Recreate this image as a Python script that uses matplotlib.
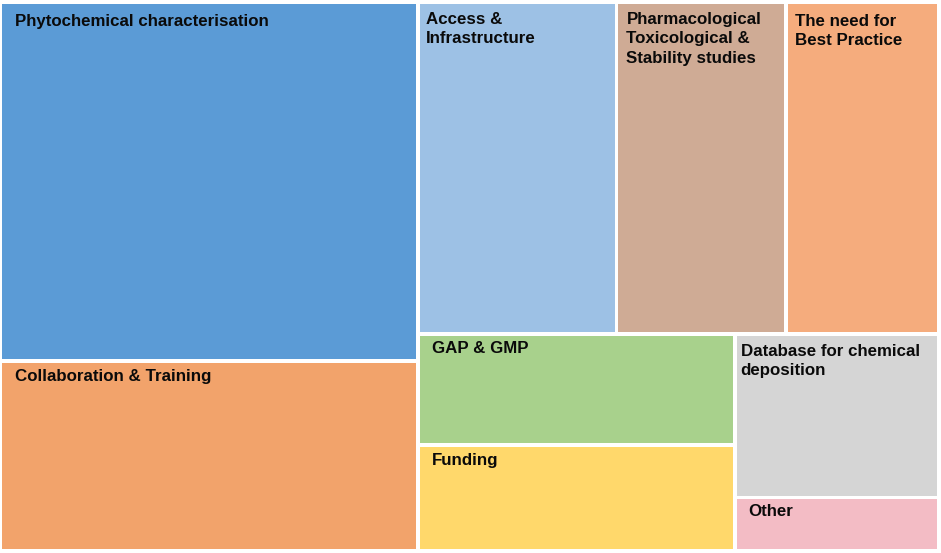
import matplotlib.pyplot as plt
from matplotlib.patches import Rectangle

# Treemap of reported needs (relative weights)
labels = [
    "Phytochemical characterisation",
    "Collaboration & Training",
    "Access &\nInfrastructure",
    "Pharmacological\nToxicological &\nStability studies",
    "The need for\nBest Practice",
    "GAP & GMP",
    "Funding",
    "Database for chemical\ndeposition",
    "Other",
]
values = [29.13, 15.38, 12.83, 10.92, 9.84, 6.84, 6.50, 6.45, 2.11]
colors = ["#5b9bd6", "#f2a36b", "#9dc1e5", "#cfab95", "#f5ac7d",
          "#a8d18c", "#ffd86b", "#d5d5d5", "#f3bcc5"]

# label padding inside each box (px), the labels are not all placed alike
pad_x = [13, 13, 6, 8, 7, 12, 12, 4, 12]
pad_y = [12, 8, 10, 10, 12, 7, 8, 10, 7]

# nesting of the layout: lists alternate between side-by-side and stacked
layout_tree = [[0, 1], [[2, 3, 4], [[5, 6], [7, 8]]]]


def total(node):
    if isinstance(node, int):
        return values[node]
    return sum(total(n) for n in node)


def place(node, x, y, w, h, horizontal, out):
    if isinstance(node, int):
        out[node] = (x, y, w, h)
        return
    s = total(node)
    pos = 0.0
    for child in node:
        frac = total(child) / s
        if horizontal:
            place(child, x + pos * w, y, w * frac, h, not horizontal, out)
        else:
            place(child, x, y + pos * h, w, h * frac, not horizontal, out)
        pos += frac


W, H = 941, 553
fig = plt.figure(figsize=(W / 100, H / 100), dpi=100)
ax = fig.add_axes([0, 0, 1, 1])
ax.set_xlim(0, W)
ax.set_ylim(H, 0)
ax.axis("off")

rects = {}
place(layout_tree, 0.5, 2, 938, 548.5, True, rects)

gap = 1.6
for i, (x, y, w, h) in rects.items():
    ax.add_patch(Rectangle((x + gap, y + gap), w - 2 * gap, h - 2 * gap,
                           facecolor=colors[i], edgecolor="none"))
    ax.text(x + gap + pad_x[i], y + gap + pad_y[i] - 2, labels[i],
            ha="left", va="top", fontsize=12.2, fontweight="bold",
            color="#0a0a0a", family=["Liberation Sans", "DejaVu Sans"],
            linespacing=1.4)

fig.savefig("out.png", dpi=100, facecolor="white")
